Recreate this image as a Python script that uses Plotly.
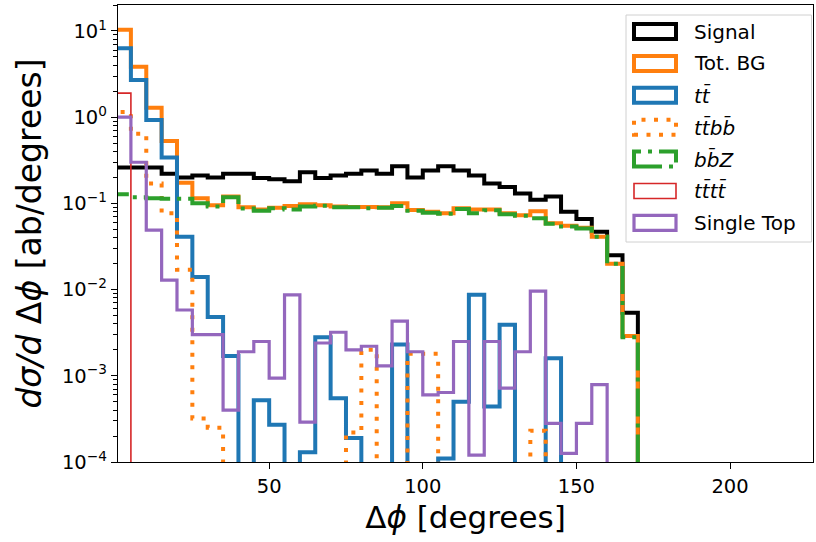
import math
import plotly.graph_objects as go

# ---------------- data ----------------
bin_edges = list(range(0, 175, 5))  # 0 .. 170 degrees, 34 bins

signal = [0.26, 0.26, 0.26, 0.22, 0.20, 0.21, 0.20, 0.22, 0.22, 0.197,
          0.19, 0.18, 0.23, 0.197, 0.21, 0.22, 0.24, 0.22, 0.27, 0.20,
          0.24, 0.27, 0.24, 0.21, 0.17, 0.155, 0.13, 0.11, 0.12, 0.08,
          0.066, 0.047, 0.025, 0.0054]

tot_bg = [10.3, 3.85, 1.29, 0.53, 0.174, 0.115, 0.095, 0.12, 0.09, 0.085,
          0.089, 0.093, 0.098, 0.095, 0.092, 0.091, 0.091, 0.09, 0.1, 0.084,
          0.08, 0.077, 0.088, 0.085, 0.085, 0.077, 0.073, 0.081, 0.059, 0.055,
          0.052, 0.041, 0.02, 0.0029]

tt = [6.3, 2.7, 0.93, 0.34, 0.041, 0.014, 0.0048, 0.0017, 0, 0.00052,
      0.00027, 0, 0.00013, 0.0028, 0.00055, 0.00019, 0, 0, 0.0023, 0,
      0, 0.00011, 0.0005, 0.0087, 0.00044, 0.0039, 0, 0, 0.0016, 0,
      0, 0, 0, 0]

ttbb = [1.15, 0.64, 0.17, 0.077, 0.017, 0.00032, 0.00025, 0, 0, 0,
        0, 0, 0, 0, 0, 0.00022, 0.002, 0, 0, 0.0018,
        0.0018, 0, 0, 0, 0, 0, 0, 0.00023, 0, 0,
        0, 0, 0, 0]

bbz = [0.128, 0.118, 0.115, 0.113, 0.113, 0.10, 0.092, 0.118, 0.087, 0.082,
       0.088, 0.085, 0.092, 0.094, 0.09, 0.09, 0.088, 0.089, 0.093, 0.082,
       0.078, 0.076, 0.086, 0.077, 0.083, 0.075, 0.072, 0.067, 0.058, 0.054,
       0.051, 0.041, 0.02, 0.0028]

tttt = [1.9] + [0] * 33

single_top = [1.0, 0.30, 0.049, 0.0129, 0.0058, 0.003, 0.003, 0.0004, 0.0019, 0.0025,
              0.00094, 0.0087, 0.00029, 0.0024, 0.0032, 0.0020, 0.0022, 0.0013, 0.0043, 0.0019,
              0.0006, 0.00064, 0.0025, 0.00012, 0.0025, 0.00072, 0.0019, 0.0096, 0.00028, 0.000126,
              0.00028, 0.00079, 0, 0]

series_names = ["Signal", "Tot. BG", "<i>tt̄</i>", "<i>tt̄bb̄</i>", "<i>bb̄Z</i>",
                "<i>tt̄tt̄</i>", "Single Top"]

ytick_vals = [1e-4, 1e-3, 1e-2, 1e-1, 1e0, 1e1]
ytick_text = ["10<sup>−4</sup>", "10<sup>−3</sup>", "10<sup>−2</sup>",
              "10<sup>−1</sup>", "10<sup>0</sup>", "10<sup>1</sup>"]
xtick_vals = [50, 100, 150, 200]

# ---------------- styles ----------------
styles = [
    dict(color="black", width=4, dash="solid"),
    dict(color="#ff7f0e", width=4, dash="solid"),
    dict(color="#1f77b4", width=4, dash="solid"),
    dict(color="#ff7f0e", width=4, dash="4px,8.5px"),
    dict(color="#2ca02c", width=4, dash="28px,7px,4px,7px"),
    dict(color="#d62728", width=1.6, dash="solid"),
    dict(color="#9467bd", width=3.2, dash="solid"),
]

FLOOR = 1e-8  # empty bins drop below the visible log range


def step_xy(vals):
    xs = [bin_edges[0]] + bin_edges[:-1] + [bin_edges[-1]]
    ys = [FLOOR] + [v if v > 0 else FLOOR for v in vals] + [FLOOR]
    return xs, ys


fig = go.Figure()
all_series = [signal, tot_bg, tt, ttbb, bbz, tttt, single_top]
for name, vals, st in zip(series_names, all_series, styles):
    xs, ys = step_xy(vals)
    fig.add_trace(go.Scatter(x=xs, y=ys, mode="lines", line_shape="hv",
                             name=name, line=st, hoverinfo="skip"))

# ---------------- axes ----------------
PX_L, PX_R, PX_T, PX_B = 118, 813, 5, 462
W, H = 816, 542

fig.update_layout(
    width=W, height=H,
    margin=dict(l=PX_L, r=W - PX_R, t=PX_T, b=H - PX_B),
    plot_bgcolor="white", paper_bgcolor="white",
    showlegend=False,
    font=dict(family="DejaVu Sans", size=20, color="black"),
)
fig.update_xaxes(
    range=[0.8, 227], tickmode="array", tickvals=xtick_vals,
    ticks="outside", ticklen=6, tickwidth=1.3, tickcolor="black",
    showline=True, linecolor="black", linewidth=1.4, mirror=True,
    showgrid=False, zeroline=False,
    tickfont=dict(size=19.5),
    title=dict(text="Δ<i>ϕ</i> [degrees]", font=dict(size=31), standoff=9),
)
fig.update_yaxes(
    type="log", range=[-4, math.log10(20)],
    tickmode="array", tickvals=ytick_vals, ticktext=ytick_text,
    ticks="outside", ticklen=6, tickwidth=1.3, tickcolor="black",
    minor=dict(tickmode="array",
               tickvals=[k * 10.0 ** e for e in range(-4, 2) for k in range(2, 10)],
               ticks="outside", ticklen=3.5, tickwidth=1, tickcolor="black"),
    showline=True, linecolor="black", linewidth=1.4, mirror=True,
    showgrid=False, zeroline=False,
    tickfont=dict(size=19.5),
    title=dict(text="<i>dσ/d</i> Δ<i>ϕ</i> [ab/degrees]", font=dict(size=33), standoff=10),
)

# ---------------- manual legend (matplotlib-like patch handles) ----------------
def px_x(px):
    return (px - PX_L) / (PX_R - PX_L)


def px_y(py):
    return (PX_B - py) / (PX_B - PX_T)


shapes = [dict(type="rect", xref="paper", yref="paper",
               x0=px_x(626), x1=px_x(811.5), y0=px_y(242), y1=px_y(15),
               line=dict(color="#d0d0d0", width=1), fillcolor="rgba(255,255,255,0.85)",
               layer="above")]
annotations = []
for i, (name, st) in enumerate(zip(series_names, styles)):
    cy = 31.5 + 31.9 * i
    shapes.append(dict(type="rect", xref="paper", yref="paper",
                       x0=px_x(634), x1=px_x(676), y0=px_y(cy + 7.5), y1=px_y(cy - 7.5),
                       line=dict(color=st["color"], width=st["width"], dash=st["dash"]),
                       fillcolor="rgba(0,0,0,0)", layer="above"))
    annotations.append(dict(x=px_x(692), y=px_y(cy), xref="paper", yref="paper",
                            text=name, showarrow=False, xanchor="left", yanchor="middle",
                            font=dict(size=20, family="DejaVu Sans", color="black")))

fig.update_layout(shapes=shapes, annotations=annotations)

fig.write_html("out.html",
               config={"displayModeBar": False},
               post_script="document.body.style.margin='0';document.body.style.overflow='hidden';")
